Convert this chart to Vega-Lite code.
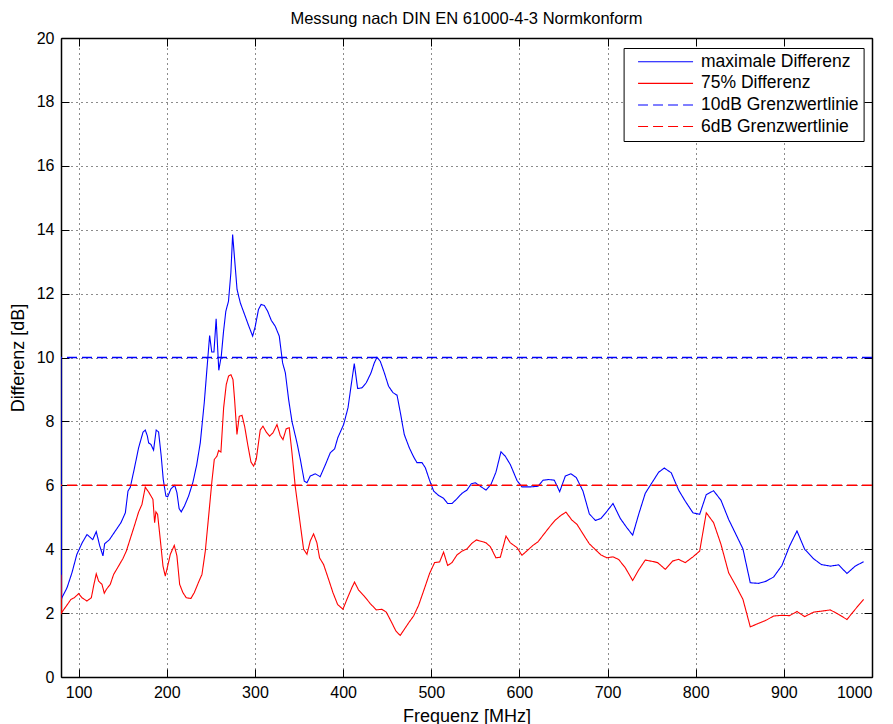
{
  "$schema": "https://vega.github.io/schema/vega-lite/v6.json",
  "width": 811,
  "height": 639,
  "autosize": {"type": "none"},
  "padding": {"left": 61, "top": 38, "right": 21, "bottom": 47},
  "background": "white",
  "title": {"text": "Messung nach DIN EN 61000-4-3 Normkonform", "fontSize": 16.5, "fontWeight": "normal", "font": "Liberation Sans", "color": "black", "offset": 3, "anchor": "middle"},
  "datasets": {
    "curves": [
      {"s": "maximale Differenz", "f": 80, "v": 10.0},
      {"s": "maximale Differenz", "f": 80.5, "v": 2.42},
      {"s": "maximale Differenz", "f": 81, "v": 2.48},
      {"s": "maximale Differenz", "f": 86.8, "v": 2.79},
      {"s": "maximale Differenz", "f": 92.4, "v": 3.26},
      {"s": "maximale Differenz", "f": 98, "v": 3.84},
      {"s": "maximale Differenz", "f": 104, "v": 4.2},
      {"s": "maximale Differenz", "f": 109.5, "v": 4.46},
      {"s": "maximale Differenz", "f": 116, "v": 4.3},
      {"s": "maximale Differenz", "f": 120, "v": 4.55},
      {"s": "maximale Differenz", "f": 124, "v": 4.1},
      {"s": "maximale Differenz", "f": 127.6, "v": 3.79},
      {"s": "maximale Differenz", "f": 129.5, "v": 4.17},
      {"s": "maximale Differenz", "f": 135, "v": 4.3},
      {"s": "maximale Differenz", "f": 141.6, "v": 4.57},
      {"s": "maximale Differenz", "f": 148, "v": 4.83},
      {"s": "maximale Differenz", "f": 153, "v": 5.14},
      {"s": "maximale Differenz", "f": 156, "v": 5.82},
      {"s": "maximale Differenz", "f": 158.6, "v": 5.94},
      {"s": "maximale Differenz", "f": 163, "v": 6.5},
      {"s": "maximale Differenz", "f": 168, "v": 7.17},
      {"s": "maximale Differenz", "f": 173, "v": 7.66},
      {"s": "maximale Differenz", "f": 175.6, "v": 7.73},
      {"s": "maximale Differenz", "f": 178, "v": 7.54},
      {"s": "maximale Differenz", "f": 179.4, "v": 7.33},
      {"s": "maximale Differenz", "f": 182, "v": 7.28},
      {"s": "maximale Differenz", "f": 185, "v": 7.1},
      {"s": "maximale Differenz", "f": 188, "v": 7.73},
      {"s": "maximale Differenz", "f": 190.7, "v": 7.67},
      {"s": "maximale Differenz", "f": 193.7, "v": 6.91},
      {"s": "maximale Differenz", "f": 196, "v": 6.18},
      {"s": "maximale Differenz", "f": 199, "v": 5.66},
      {"s": "maximale Differenz", "f": 201, "v": 5.64},
      {"s": "maximale Differenz", "f": 204.7, "v": 5.89},
      {"s": "maximale Differenz", "f": 209, "v": 6.0},
      {"s": "maximale Differenz", "f": 211.5, "v": 5.77},
      {"s": "maximale Differenz", "f": 214, "v": 5.27},
      {"s": "maximale Differenz", "f": 216.4, "v": 5.17},
      {"s": "maximale Differenz", "f": 220, "v": 5.35},
      {"s": "maximale Differenz", "f": 224.7, "v": 5.66},
      {"s": "maximale Differenz", "f": 229.7, "v": 6.1},
      {"s": "maximale Differenz", "f": 234, "v": 6.65},
      {"s": "maximale Differenz", "f": 238, "v": 7.33},
      {"s": "maximale Differenz", "f": 242.5, "v": 8.58},
      {"s": "maximale Differenz", "f": 245.5, "v": 9.62},
      {"s": "maximale Differenz", "f": 248.6, "v": 10.69},
      {"s": "maximale Differenz", "f": 251, "v": 10.17},
      {"s": "maximale Differenz", "f": 253.5, "v": 10.17},
      {"s": "maximale Differenz", "f": 256, "v": 11.21},
      {"s": "maximale Differenz", "f": 259, "v": 9.6},
      {"s": "maximale Differenz", "f": 261.8, "v": 10.04},
      {"s": "maximale Differenz", "f": 264.4, "v": 10.82},
      {"s": "maximale Differenz", "f": 267, "v": 11.45},
      {"s": "maximale Differenz", "f": 270, "v": 11.76},
      {"s": "maximale Differenz", "f": 272.7, "v": 12.65},
      {"s": "maximale Differenz", "f": 274.7, "v": 13.85},
      {"s": "maximale Differenz", "f": 279.7, "v": 12.13},
      {"s": "maximale Differenz", "f": 283.4, "v": 11.71},
      {"s": "maximale Differenz", "f": 289, "v": 11.29},
      {"s": "maximale Differenz", "f": 292.8, "v": 11.0},
      {"s": "maximale Differenz", "f": 297.4, "v": 10.67},
      {"s": "maximale Differenz", "f": 300.4, "v": 10.98},
      {"s": "maximale Differenz", "f": 304, "v": 11.5},
      {"s": "maximale Differenz", "f": 307, "v": 11.66},
      {"s": "maximale Differenz", "f": 310.6, "v": 11.63},
      {"s": "maximale Differenz", "f": 314.4, "v": 11.45},
      {"s": "maximale Differenz", "f": 318.6, "v": 11.16},
      {"s": "maximale Differenz", "f": 323, "v": 10.98},
      {"s": "maximale Differenz", "f": 327.6, "v": 10.67},
      {"s": "maximale Differenz", "f": 331.4, "v": 9.83},
      {"s": "maximale Differenz", "f": 334.5, "v": 9.52},
      {"s": "maximale Differenz", "f": 338.2, "v": 8.69},
      {"s": "maximale Differenz", "f": 342, "v": 8.0},
      {"s": "maximale Differenz", "f": 347.7, "v": 7.33},
      {"s": "maximale Differenz", "f": 351.5, "v": 6.81},
      {"s": "maximale Differenz", "f": 356, "v": 6.13},
      {"s": "maximale Differenz", "f": 359, "v": 6.08},
      {"s": "maximale Differenz", "f": 362.8, "v": 6.29},
      {"s": "maximale Differenz", "f": 368.5, "v": 6.36},
      {"s": "maximale Differenz", "f": 374, "v": 6.27},
      {"s": "maximale Differenz", "f": 380, "v": 6.65},
      {"s": "maximale Differenz", "f": 385.5, "v": 7.02},
      {"s": "maximale Differenz", "f": 390.4, "v": 7.14},
      {"s": "maximale Differenz", "f": 394, "v": 7.49},
      {"s": "maximale Differenz", "f": 400.6, "v": 7.9},
      {"s": "maximale Differenz", "f": 405.6, "v": 8.43},
      {"s": "maximale Differenz", "f": 409, "v": 9.1},
      {"s": "maximale Differenz", "f": 412.7, "v": 9.81},
      {"s": "maximale Differenz", "f": 416.5, "v": 9.03},
      {"s": "maximale Differenz", "f": 421.4, "v": 9.05},
      {"s": "maximale Differenz", "f": 426.3, "v": 9.21},
      {"s": "maximale Differenz", "f": 431.7, "v": 9.52},
      {"s": "maximale Differenz", "f": 435.4, "v": 9.83},
      {"s": "maximale Differenz", "f": 438.5, "v": 10.01},
      {"s": "maximale Differenz", "f": 442.2, "v": 9.88},
      {"s": "maximale Differenz", "f": 446.8, "v": 9.52},
      {"s": "maximale Differenz", "f": 451.6, "v": 9.1},
      {"s": "maximale Differenz", "f": 456.6, "v": 8.9},
      {"s": "maximale Differenz", "f": 461.2, "v": 8.82},
      {"s": "maximale Differenz", "f": 465, "v": 8.27},
      {"s": "maximale Differenz", "f": 469.4, "v": 7.59},
      {"s": "maximale Differenz", "f": 475, "v": 7.18},
      {"s": "maximale Differenz", "f": 480, "v": 6.89},
      {"s": "maximale Differenz", "f": 483.8, "v": 6.71},
      {"s": "maximale Differenz", "f": 489.5, "v": 6.71},
      {"s": "maximale Differenz", "f": 493.3, "v": 6.55},
      {"s": "maximale Differenz", "f": 497.8, "v": 6.18},
      {"s": "maximale Differenz", "f": 502.7, "v": 5.82},
      {"s": "maximale Differenz", "f": 508.4, "v": 5.68},
      {"s": "maximale Differenz", "f": 514.1, "v": 5.59},
      {"s": "maximale Differenz", "f": 518.6, "v": 5.43},
      {"s": "maximale Differenz", "f": 523.5, "v": 5.43},
      {"s": "maximale Differenz", "f": 529.2, "v": 5.58},
      {"s": "maximale Differenz", "f": 534.9, "v": 5.75},
      {"s": "maximale Differenz", "f": 540.5, "v": 5.85},
      {"s": "maximale Differenz", "f": 545.5, "v": 6.05},
      {"s": "maximale Differenz", "f": 550, "v": 6.08},
      {"s": "maximale Differenz", "f": 555.7, "v": 5.97},
      {"s": "maximale Differenz", "f": 562.1, "v": 5.85},
      {"s": "maximale Differenz", "f": 567.8, "v": 6.03},
      {"s": "maximale Differenz", "f": 573.4, "v": 6.41},
      {"s": "maximale Differenz", "f": 579.1, "v": 7.05},
      {"s": "maximale Differenz", "f": 584, "v": 6.91},
      {"s": "maximale Differenz", "f": 589.7, "v": 6.65},
      {"s": "maximale Differenz", "f": 597.3, "v": 6.15},
      {"s": "maximale Differenz", "f": 602.9, "v": 5.95},
      {"s": "maximale Differenz", "f": 612.4, "v": 5.95},
      {"s": "maximale Differenz", "f": 621.1, "v": 5.97},
      {"s": "maximale Differenz", "f": 626.8, "v": 6.16},
      {"s": "maximale Differenz", "f": 633.2, "v": 6.18},
      {"s": "maximale Differenz", "f": 639.6, "v": 6.16},
      {"s": "maximale Differenz", "f": 645.7, "v": 5.8},
      {"s": "maximale Differenz", "f": 652.1, "v": 6.29},
      {"s": "maximale Differenz", "f": 658.5, "v": 6.36},
      {"s": "maximale Differenz", "f": 664.6, "v": 6.24},
      {"s": "maximale Differenz", "f": 672.1, "v": 5.82},
      {"s": "maximale Differenz", "f": 679.3, "v": 5.11},
      {"s": "maximale Differenz", "f": 686.1, "v": 4.9},
      {"s": "maximale Differenz", "f": 692.5, "v": 4.96},
      {"s": "maximale Differenz", "f": 699.4, "v": 5.19},
      {"s": "maximale Differenz", "f": 706.2, "v": 5.43},
      {"s": "maximale Differenz", "f": 714.5, "v": 4.96},
      {"s": "maximale Differenz", "f": 722, "v": 4.67},
      {"s": "maximale Differenz", "f": 728.5, "v": 4.44},
      {"s": "maximale Differenz", "f": 735.3, "v": 5.09},
      {"s": "maximale Differenz", "f": 742.8, "v": 5.75},
      {"s": "maximale Differenz", "f": 750.4, "v": 6.08},
      {"s": "maximale Differenz", "f": 758, "v": 6.41},
      {"s": "maximale Differenz", "f": 764.4, "v": 6.54},
      {"s": "maximale Differenz", "f": 772.3, "v": 6.39},
      {"s": "maximale Differenz", "f": 780.6, "v": 5.85},
      {"s": "maximale Differenz", "f": 788.2, "v": 5.5},
      {"s": "maximale Differenz", "f": 796.9, "v": 5.14},
      {"s": "maximale Differenz", "f": 804.5, "v": 5.09},
      {"s": "maximale Differenz", "f": 812, "v": 5.71},
      {"s": "maximale Differenz", "f": 820.3, "v": 5.83},
      {"s": "maximale Differenz", "f": 828.7, "v": 5.53},
      {"s": "maximale Differenz", "f": 837.4, "v": 4.93},
      {"s": "maximale Differenz", "f": 845.7, "v": 4.46},
      {"s": "maximale Differenz", "f": 853.6, "v": 4.01},
      {"s": "maximale Differenz", "f": 861.9, "v": 2.95},
      {"s": "maximale Differenz", "f": 871.4, "v": 2.93},
      {"s": "maximale Differenz", "f": 880.1, "v": 3.0},
      {"s": "maximale Differenz", "f": 888.4, "v": 3.13},
      {"s": "maximale Differenz", "f": 897.8, "v": 3.49},
      {"s": "maximale Differenz", "f": 906.5, "v": 4.1},
      {"s": "maximale Differenz", "f": 914.9, "v": 4.57},
      {"s": "maximale Differenz", "f": 923.6, "v": 4.0},
      {"s": "maximale Differenz", "f": 933.8, "v": 3.7},
      {"s": "maximale Differenz", "f": 942.5, "v": 3.52},
      {"s": "maximale Differenz", "f": 952.7, "v": 3.47},
      {"s": "maximale Differenz", "f": 962.1, "v": 3.51},
      {"s": "maximale Differenz", "f": 971.6, "v": 3.24},
      {"s": "maximale Differenz", "f": 981, "v": 3.47},
      {"s": "maximale Differenz", "f": 990.5, "v": 3.61},
      {"s": "75% Differenz", "f": 80, "v": 3.2},
      {"s": "75% Differenz", "f": 80.5, "v": 2.0},
      {"s": "75% Differenz", "f": 81.1, "v": 2.03},
      {"s": "75% Differenz", "f": 86, "v": 2.22},
      {"s": "75% Differenz", "f": 91.3, "v": 2.43},
      {"s": "75% Differenz", "f": 95.1, "v": 2.48},
      {"s": "75% Differenz", "f": 100, "v": 2.61},
      {"s": "75% Differenz", "f": 103.8, "v": 2.48},
      {"s": "75% Differenz", "f": 109.4, "v": 2.38},
      {"s": "75% Differenz", "f": 114.4, "v": 2.48},
      {"s": "75% Differenz", "f": 117, "v": 2.85},
      {"s": "75% Differenz", "f": 120, "v": 3.23},
      {"s": "75% Differenz", "f": 122.7, "v": 3.0},
      {"s": "75% Differenz", "f": 126.5, "v": 2.9},
      {"s": "75% Differenz", "f": 129.1, "v": 2.62},
      {"s": "75% Differenz", "f": 131.4, "v": 2.74},
      {"s": "75% Differenz", "f": 135.9, "v": 2.9},
      {"s": "75% Differenz", "f": 139.7, "v": 3.21},
      {"s": "75% Differenz", "f": 144.2, "v": 3.42},
      {"s": "75% Differenz", "f": 150.3, "v": 3.71},
      {"s": "75% Differenz", "f": 154.1, "v": 3.94},
      {"s": "75% Differenz", "f": 158.6, "v": 4.33},
      {"s": "75% Differenz", "f": 163.1, "v": 4.72},
      {"s": "75% Differenz", "f": 168, "v": 5.16},
      {"s": "75% Differenz", "f": 171.8, "v": 5.4},
      {"s": "75% Differenz", "f": 175.6, "v": 5.94},
      {"s": "75% Differenz", "f": 179.4, "v": 5.79},
      {"s": "75% Differenz", "f": 184.3, "v": 5.56},
      {"s": "75% Differenz", "f": 186.2, "v": 4.83},
      {"s": "75% Differenz", "f": 187.7, "v": 5.17},
      {"s": "75% Differenz", "f": 189.6, "v": 5.09},
      {"s": "75% Differenz", "f": 192.6, "v": 4.31},
      {"s": "75% Differenz", "f": 195.7, "v": 3.47},
      {"s": "75% Differenz", "f": 198.3, "v": 3.16},
      {"s": "75% Differenz", "f": 201, "v": 3.47},
      {"s": "75% Differenz", "f": 204, "v": 3.84},
      {"s": "75% Differenz", "f": 208.5, "v": 4.12},
      {"s": "75% Differenz", "f": 211.5, "v": 3.79},
      {"s": "75% Differenz", "f": 214.6, "v": 2.9},
      {"s": "75% Differenz", "f": 218.3, "v": 2.64},
      {"s": "75% Differenz", "f": 222.1, "v": 2.48},
      {"s": "75% Differenz", "f": 227.4, "v": 2.46},
      {"s": "75% Differenz", "f": 231.2, "v": 2.64},
      {"s": "75% Differenz", "f": 236.1, "v": 2.97},
      {"s": "75% Differenz", "f": 239.9, "v": 3.21},
      {"s": "75% Differenz", "f": 243.7, "v": 3.94},
      {"s": "75% Differenz", "f": 247.5, "v": 5.04},
      {"s": "75% Differenz", "f": 251.2, "v": 6.13},
      {"s": "75% Differenz", "f": 253.9, "v": 6.81},
      {"s": "75% Differenz", "f": 256.9, "v": 6.91},
      {"s": "75% Differenz", "f": 258.8, "v": 7.09},
      {"s": "75% Differenz", "f": 261.4, "v": 7.04},
      {"s": "75% Differenz", "f": 264.5, "v": 8.43},
      {"s": "75% Differenz", "f": 267.5, "v": 9.16},
      {"s": "75% Differenz", "f": 270.1, "v": 9.42},
      {"s": "75% Differenz", "f": 272.8, "v": 9.46},
      {"s": "75% Differenz", "f": 275.1, "v": 9.31},
      {"s": "75% Differenz", "f": 276.9, "v": 8.69},
      {"s": "75% Differenz", "f": 279.6, "v": 7.59},
      {"s": "75% Differenz", "f": 282.2, "v": 8.16},
      {"s": "75% Differenz", "f": 285.3, "v": 8.19},
      {"s": "75% Differenz", "f": 288.3, "v": 7.85},
      {"s": "75% Differenz", "f": 292.1, "v": 7.23},
      {"s": "75% Differenz", "f": 295.5, "v": 6.73},
      {"s": "75% Differenz", "f": 298.5, "v": 6.6},
      {"s": "75% Differenz", "f": 301.5, "v": 6.81},
      {"s": "75% Differenz", "f": 306, "v": 7.73},
      {"s": "75% Differenz", "f": 309.1, "v": 7.85},
      {"s": "75% Differenz", "f": 312.8, "v": 7.67},
      {"s": "75% Differenz", "f": 316.6, "v": 7.54},
      {"s": "75% Differenz", "f": 320.4, "v": 7.64},
      {"s": "75% Differenz", "f": 325, "v": 7.9},
      {"s": "75% Differenz", "f": 328.7, "v": 7.56},
      {"s": "75% Differenz", "f": 331.8, "v": 7.43},
      {"s": "75% Differenz", "f": 335.5, "v": 7.77},
      {"s": "75% Differenz", "f": 338.9, "v": 7.8},
      {"s": "75% Differenz", "f": 342, "v": 7.02},
      {"s": "75% Differenz", "f": 345.7, "v": 5.97},
      {"s": "75% Differenz", "f": 350.7, "v": 4.93},
      {"s": "75% Differenz", "f": 355.2, "v": 4.0},
      {"s": "75% Differenz", "f": 359, "v": 3.84},
      {"s": "75% Differenz", "f": 362.8, "v": 4.26},
      {"s": "75% Differenz", "f": 366.5, "v": 4.48},
      {"s": "75% Differenz", "f": 370.3, "v": 4.2},
      {"s": "75% Differenz", "f": 373.3, "v": 3.73},
      {"s": "75% Differenz", "f": 377.9, "v": 3.52},
      {"s": "75% Differenz", "f": 383.5, "v": 3.06},
      {"s": "75% Differenz", "f": 388.5, "v": 2.64},
      {"s": "75% Differenz", "f": 393.8, "v": 2.27},
      {"s": "75% Differenz", "f": 399.8, "v": 2.12},
      {"s": "75% Differenz", "f": 405.1, "v": 2.48},
      {"s": "75% Differenz", "f": 410, "v": 2.8},
      {"s": "75% Differenz", "f": 413, "v": 2.97},
      {"s": "75% Differenz", "f": 417.6, "v": 2.72},
      {"s": "75% Differenz", "f": 424, "v": 2.53},
      {"s": "75% Differenz", "f": 430.8, "v": 2.3},
      {"s": "75% Differenz", "f": 437.6, "v": 2.1},
      {"s": "75% Differenz", "f": 444, "v": 2.12},
      {"s": "75% Differenz", "f": 449, "v": 2.03},
      {"s": "75% Differenz", "f": 454.3, "v": 1.75},
      {"s": "75% Differenz", "f": 459.9, "v": 1.44},
      {"s": "75% Differenz", "f": 464.8, "v": 1.3},
      {"s": "75% Differenz", "f": 469.4, "v": 1.49},
      {"s": "75% Differenz", "f": 475, "v": 1.72},
      {"s": "75% Differenz", "f": 480, "v": 1.91},
      {"s": "75% Differenz", "f": 485.6, "v": 2.24},
      {"s": "75% Differenz", "f": 491.3, "v": 2.69},
      {"s": "75% Differenz", "f": 498.1, "v": 3.24},
      {"s": "75% Differenz", "f": 503.8, "v": 3.58},
      {"s": "75% Differenz", "f": 509.5, "v": 3.6},
      {"s": "75% Differenz", "f": 514, "v": 3.91},
      {"s": "75% Differenz", "f": 518.6, "v": 3.49},
      {"s": "75% Differenz", "f": 523.5, "v": 3.58},
      {"s": "75% Differenz", "f": 529.2, "v": 3.82},
      {"s": "75% Differenz", "f": 534.9, "v": 3.94},
      {"s": "75% Differenz", "f": 540.5, "v": 4.01},
      {"s": "75% Differenz", "f": 545.5, "v": 4.17},
      {"s": "75% Differenz", "f": 551.1, "v": 4.29},
      {"s": "75% Differenz", "f": 556.4, "v": 4.25},
      {"s": "75% Differenz", "f": 562.1, "v": 4.2},
      {"s": "75% Differenz", "f": 567, "v": 4.08},
      {"s": "75% Differenz", "f": 573.4, "v": 3.73},
      {"s": "75% Differenz", "f": 578.4, "v": 3.75},
      {"s": "75% Differenz", "f": 584.8, "v": 4.41},
      {"s": "75% Differenz", "f": 589.7, "v": 4.2},
      {"s": "75% Differenz", "f": 597.3, "v": 4.05},
      {"s": "75% Differenz", "f": 602.9, "v": 3.81},
      {"s": "75% Differenz", "f": 609.4, "v": 3.97},
      {"s": "75% Differenz", "f": 615.4, "v": 4.12},
      {"s": "75% Differenz", "f": 621.1, "v": 4.23},
      {"s": "75% Differenz", "f": 627.5, "v": 4.46},
      {"s": "75% Differenz", "f": 634.3, "v": 4.7},
      {"s": "75% Differenz", "f": 640.7, "v": 4.91},
      {"s": "75% Differenz", "f": 647.2, "v": 5.06},
      {"s": "75% Differenz", "f": 652.8, "v": 5.16},
      {"s": "75% Differenz", "f": 659.6, "v": 4.91},
      {"s": "75% Differenz", "f": 665.3, "v": 4.78},
      {"s": "75% Differenz", "f": 672.1, "v": 4.48},
      {"s": "75% Differenz", "f": 679.3, "v": 4.17},
      {"s": "75% Differenz", "f": 686.1, "v": 3.99},
      {"s": "75% Differenz", "f": 692.5, "v": 3.82},
      {"s": "75% Differenz", "f": 699.4, "v": 3.73},
      {"s": "75% Differenz", "f": 706.2, "v": 3.76},
      {"s": "75% Differenz", "f": 712.6, "v": 3.68},
      {"s": "75% Differenz", "f": 720.1, "v": 3.42},
      {"s": "75% Differenz", "f": 728.5, "v": 3.02},
      {"s": "75% Differenz", "f": 735.3, "v": 3.35},
      {"s": "75% Differenz", "f": 742.8, "v": 3.66},
      {"s": "75% Differenz", "f": 752.3, "v": 3.61},
      {"s": "75% Differenz", "f": 756.8, "v": 3.58},
      {"s": "75% Differenz", "f": 765.5, "v": 3.37},
      {"s": "75% Differenz", "f": 773.8, "v": 3.63},
      {"s": "75% Differenz", "f": 780.6, "v": 3.68},
      {"s": "75% Differenz", "f": 788.2, "v": 3.58},
      {"s": "75% Differenz", "f": 796.9, "v": 3.76},
      {"s": "75% Differenz", "f": 804.5, "v": 3.94},
      {"s": "75% Differenz", "f": 812, "v": 5.14},
      {"s": "75% Differenz", "f": 820.3, "v": 4.83},
      {"s": "75% Differenz", "f": 828.7, "v": 4.15},
      {"s": "75% Differenz", "f": 837.4, "v": 3.26},
      {"s": "75% Differenz", "f": 845.7, "v": 2.85},
      {"s": "75% Differenz", "f": 853.6, "v": 2.43},
      {"s": "75% Differenz", "f": 861.9, "v": 1.57},
      {"s": "75% Differenz", "f": 871.4, "v": 1.68},
      {"s": "75% Differenz", "f": 880.1, "v": 1.78},
      {"s": "75% Differenz", "f": 888.4, "v": 1.91},
      {"s": "75% Differenz", "f": 897.8, "v": 1.93},
      {"s": "75% Differenz", "f": 906.5, "v": 1.92},
      {"s": "75% Differenz", "f": 914.9, "v": 2.05},
      {"s": "75% Differenz", "f": 923.6, "v": 1.89},
      {"s": "75% Differenz", "f": 933.8, "v": 2.03},
      {"s": "75% Differenz", "f": 942.5, "v": 2.06},
      {"s": "75% Differenz", "f": 952.7, "v": 2.1},
      {"s": "75% Differenz", "f": 962.1, "v": 1.96},
      {"s": "75% Differenz", "f": 971.6, "v": 1.8},
      {"s": "75% Differenz", "f": 981, "v": 2.12},
      {"s": "75% Differenz", "f": 990.5, "v": 2.43}
    ],
    "limits": [
      {"s": "10dB Grenzwertlinie", "v": 10},
      {"s": "6dB Grenzwertlinie", "v": 6}
    ]
  },
  "layer": [
    {
      "data": {"name": "curves"},
      "mark": {"type": "line", "strokeWidth": 1.1, "clip": true},
      "encoding": {
        "x": {"field": "f", "type": "quantitative", "sort": null,
              "scale": {"domain": [80, 1000], "nice": false, "zero": false},
              "axis": {"orient": "bottom", "values": [100, 200, 300, 400, 500, 600, 700, 800, 900, 1000], "format": "d", "title": "Frequenz [MHz]", "grid": true, "labelPadding": 15, "titlePadding": 7}},
        "y": {"field": "v", "type": "quantitative",
              "scale": {"domain": [0, 20], "nice": false, "zero": false},
              "axis": {"orient": "left", "values": [0, 2, 4, 6, 8, 10, 12, 14, 16, 18, 20], "format": "d", "title": "Differenz [dB]", "grid": true, "labelPadding": 15, "titlePadding": 9}},
        "color": {"field": "s", "type": "nominal",
                  "scale": {"domain": ["maximale Differenz", "75% Differenz", "10dB Grenzwertlinie", "6dB Grenzwertlinie"], "range": ["#0000ff", "#ff0000", "#0000ff", "#ff0000"]},
                  "legend": {"title": null}},
        "strokeDash": {"field": "s", "type": "nominal",
                  "scale": {"domain": ["maximale Differenz", "75% Differenz", "10dB Grenzwertlinie", "6dB Grenzwertlinie"], "range": [[1, 0], [1, 0], [10, 5], [10, 5]]},
                  "legend": {"title": null}}
      }
    },
    {
      "data": {"name": "limits"},
      "mark": {"type": "rule", "strokeWidth": 1.4},
      "encoding": {
        "y": {"field": "v", "type": "quantitative",
              "scale": {"domain": [0, 20], "nice": false, "zero": false},
              "axis": {"orient": "right", "values": [0, 2, 4, 6, 8, 10, 12, 14, 16, 18, 20], "title": null, "labels": false, "grid": false}},
        "color": {"field": "s", "type": "nominal"},
        "strokeDash": {"field": "s", "type": "nominal"}
      }
    },
    {
      "data": {"name": "curves"},
      "mark": {"type": "line", "opacity": 0},
      "encoding": {
        "x": {"field": "f", "type": "quantitative",
              "scale": {"domain": [80, 1000], "nice": false, "zero": false},
              "axis": {"orient": "top", "values": [100, 200, 300, 400, 500, 600, 700, 800, 900, 1000], "title": null, "labels": false, "grid": false}},
        "y": {"field": "v", "type": "quantitative", "axis": null}
      }
    }
  ],
  "resolve": {"axis": {"x": "independent", "y": "independent"}},
  "config": {
    "font": "Liberation Sans",
    "view": {"stroke": null},
    "axis": {
      "domainColor": "black", "domainWidth": 1.5, "tickColor": "black", "tickSize": -8, "tickWidth": 1,
      "labelColor": "black", "labelFontSize": 16, "labelFont": "Liberation Sans",
      "titleColor": "black", "titleFontSize": 18, "titleFontWeight": "normal", "titleFont": "Liberation Sans",
      "gridColor": "black", "gridDash": [1, 4], "gridOpacity": 0.9, "gridWidth": 1
    },
    "legend": {
      "orient": "none", "legendX": 562.6, "legendY": 10,
      "strokeColor": "black", "fillColor": "white", "padding": 5,
      "labelFontSize": 17.5, "labelFont": "Liberation Sans", "labelColor": "black", "labelLimit": 400,
      "symbolType": "M-5,0H5", "symbolSize": 121, "symbolStrokeWidth": 1.1,
      "symbolOffset": 28.2, "labelOffset": 26.7, "rowPadding": 2.6
    }
  }
}
